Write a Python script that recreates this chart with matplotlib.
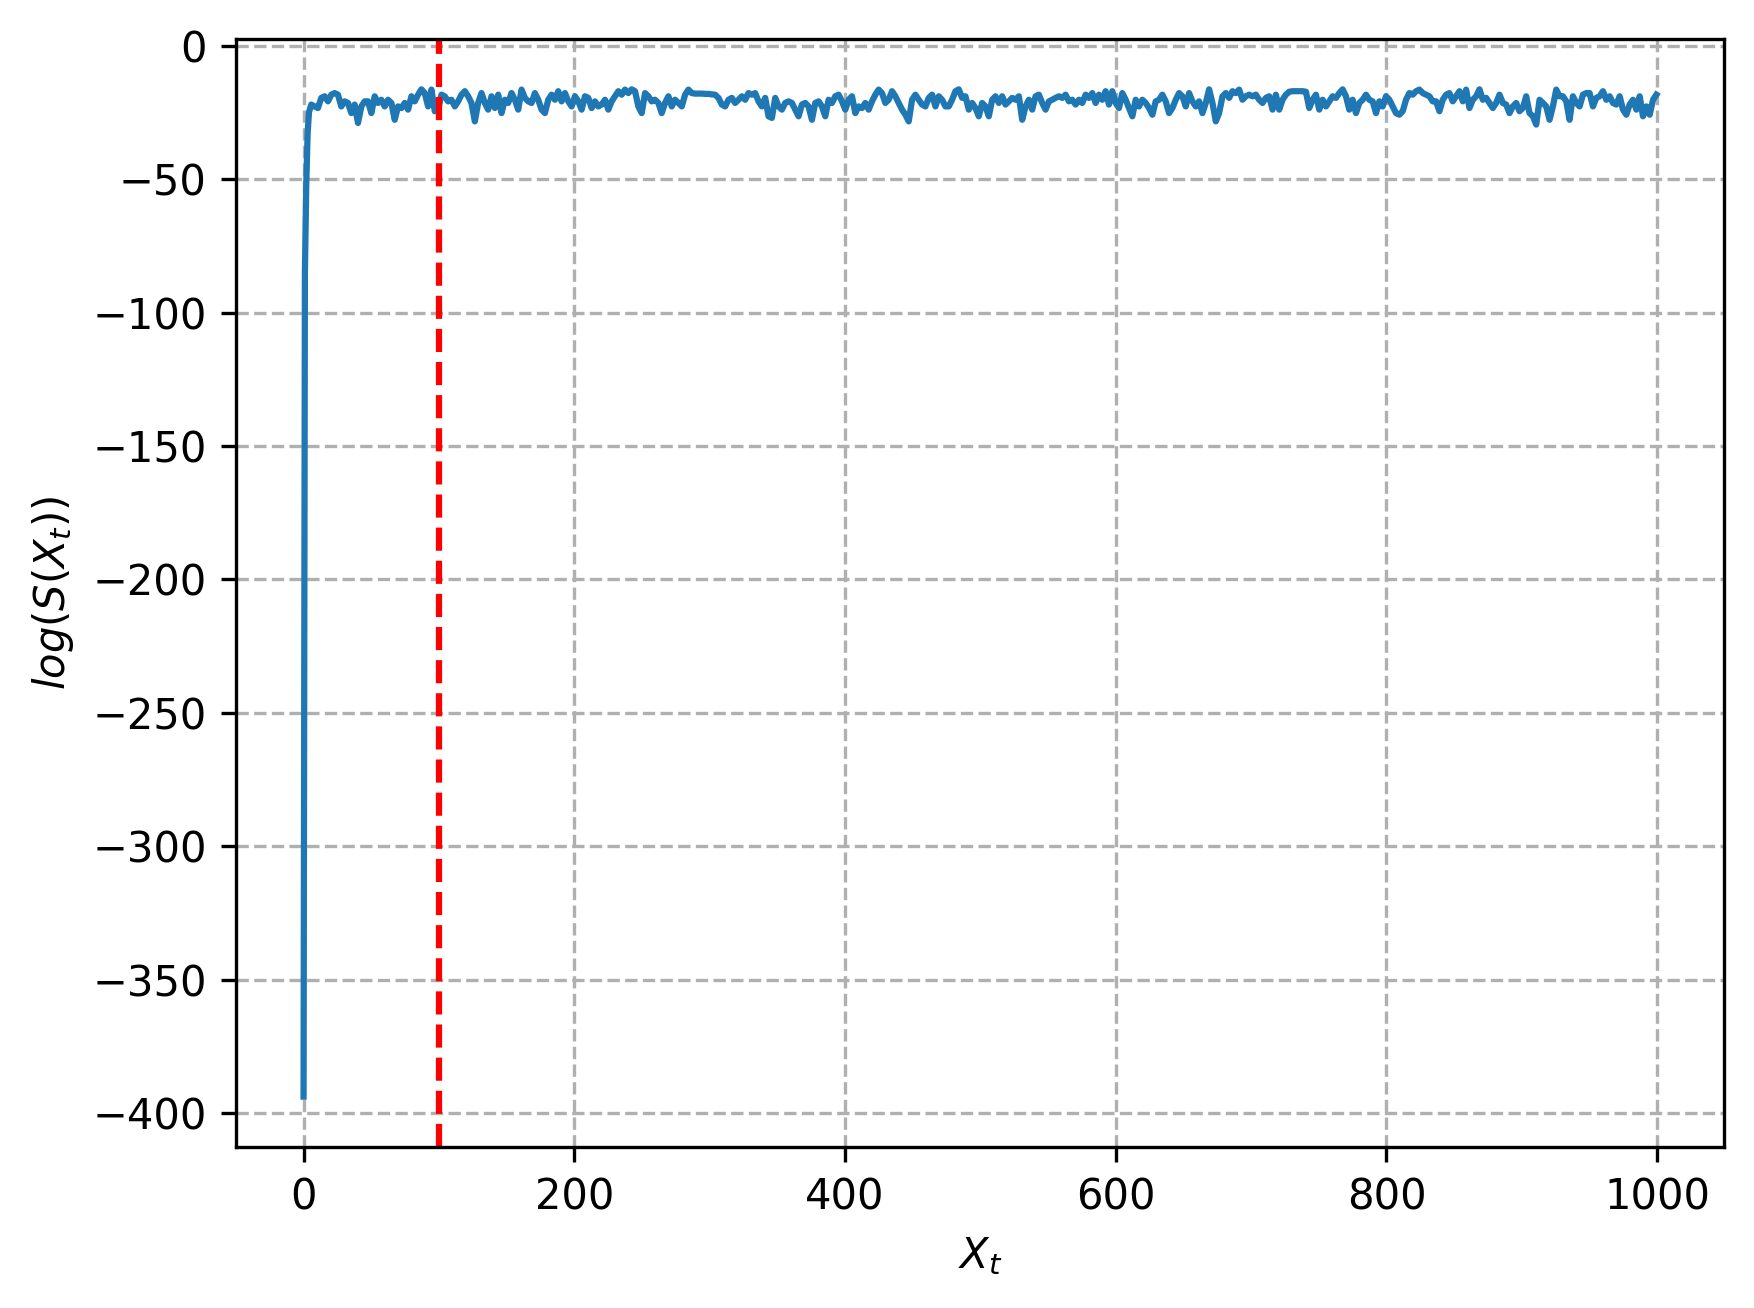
import numpy as np
import matplotlib
matplotlib.use("Agg")
import matplotlib.pyplot as plt

# initial burn-in ramp
ramp_x = [0, 1, 2, 3, 4]
ramp_y = [-393.7, -85.0, -52.0, -33.0, -25.0]

seg1 = [-22.1, -22.8, -23.4, -19.6, -19.0, -20.9, -18.4, -17.8, -18.4, -22.8,
        -20.9, -21.5, -25.3, -22.1, -29.0, -22.8, -20.9, -20.9, -25.3, -19.0,
        -21.5, -20.3, -22.8, -20.3, -21.5, -27.8, -22.8, -23.4, -21.5, -24.0,
        -19.0, -20.9, -18.4, -16.4, -17.8, -22.8, -16.5, -24.6, -24.0, -18.4,
        -19.0, -20.9, -20.3, -22.8, -20.9, -18.4, -17.1, -19.0, -21.5, -28.4,
        -21.5, -17.8, -21.5, -24.0, -19.0, -23.4, -18.4, -25.3, -20.3, -21.5,
        -17.8, -20.3, -24.0, -16.5, -19.6, -20.9]
seg2 = [-21.5, -17.8, -20.3, -24.0, -25.3, -20.3, -18.4, -20.3, -17.1, -20.9,
        -17.8, -20.9, -22.8, -19.0, -20.9, -24.0, -19.0, -19.6, -23.4, -20.9,
        -22.8, -22.1, -20.3, -24.0, -20.9, -19.0, -17.1, -18.4, -16.5, -17.8,
        -16.4, -17.1, -22.8, -25.3, -17.8, -19.0, -20.9, -20.3, -21.5, -25.3,
        -21.5, -19.0, -22.8, -20.3, -21.5, -22.8, -18.4, -16.5, -17.8, -18.0,
        -18.0, -18.0, -18.1, -18.1, -18.3, -18.4, -19.6, -22.1, -22.8, -20.3,
        -19.6, -21.5, -20.3, -19.0, -20.3, -17.8, -18.4, -17.8, -20.9]
seg3 = [-22.8, -19.6, -26.5, -27.1, -19.6, -22.8, -24.0, -21.5, -20.9, -21.5,
        -24.0, -26.5, -22.1, -21.5, -22.8, -27.8, -21.5, -20.9, -22.8, -26.5,
        -20.3, -21.5, -19.0, -18.4, -20.9, -24.0, -20.3, -19.0, -25.3, -22.8,
        -23.4, -21.5, -24.0, -20.9, -18.4, -16.5, -17.8, -21.5, -20.3, -17.1,
        -19.0, -21.5, -24.0, -25.9, -28.4, -20.3, -18.4, -20.3, -22.1, -22.8,
        -19.6, -18.4, -22.8, -19.0, -20.3, -22.8, -22.8, -20.3, -17.1, -16.4,
        -19.6, -19.0, -24.0, -21.5, -23.4, -26.5, -21.5, -22.8, -26.5]
seg4 = [-20.3, -19.0, -21.5, -19.0, -22.1, -20.9, -19.6, -20.3, -19.0, -27.8,
        -22.8, -20.3, -24.0, -19.0, -18.4, -21.5, -24.0, -20.9, -20.3, -19.6,
        -19.0, -19.6, -18.4, -20.9, -20.3, -22.1, -20.3, -21.5, -18.4, -19.6,
        -17.8, -21.5, -18.4, -20.3, -17.1, -22.1, -17.1, -21.5, -23.4, -17.8,
        -20.3, -23.4, -26.5, -20.3, -22.8, -20.3, -21.5, -23.4, -25.9, -20.9,
        -20.3, -18.4, -20.9, -25.3, -23.4, -20.3, -17.8, -19.0, -22.8, -17.8,
        -20.9, -22.8, -20.9, -25.3, -21.5, -16.4, -21.5, -28.4, -25.3]
seg5 = [-19.0, -17.8, -19.6, -17.1, -17.8, -16.5, -20.3, -19.0, -18.4, -19.0,
        -18.4, -20.3, -21.5, -19.6, -19.0, -24.0, -18.4, -24.0, -20.3, -18.4,
        -17.3, -17.1, -17.1, -17.1, -17.1, -17.3, -23.4, -20.3, -18.4, -24.0,
        -20.3, -22.8, -20.9, -19.0, -19.6, -17.8, -16.4, -19.0, -24.0, -20.3,
        -25.3, -21.5, -20.3, -18.4, -20.3, -20.9, -25.3, -20.9, -22.8, -19.0,
        -20.3, -22.8, -25.3, -25.9, -24.6, -20.3, -17.8, -18.4, -17.1, -16.5,
        -17.8, -18.4, -19.0, -20.9, -20.9, -24.6, -20.3, -18.4, -17.8]
seg6 = [-20.9, -19.0, -17.1, -20.9, -16.5, -23.4, -20.3, -19.0, -16.4, -20.3,
        -19.6, -21.5, -23.4, -21.5, -18.4, -21.5, -22.1, -25.3, -22.8, -21.5,
        -24.6, -23.4, -19.0, -25.3, -26.5, -29.6, -20.3, -21.5, -22.8, -27.8,
        -22.8, -16.5, -19.0, -19.0, -20.9, -27.8, -19.0, -21.5, -22.8, -18.4,
        -17.8, -17.8, -22.8, -19.6, -19.0, -17.1, -20.3, -19.0, -21.5, -22.1,
        -19.0, -24.0, -25.9, -22.1, -20.3, -24.0, -19.0, -26.5, -22.8, -25.9,
        -20.3, -18.4]

chain_start = 5.7
chain_end = 999.4
burn_in = 100

chain_y = seg1 + seg2 + seg3 + seg4 + seg5 + seg6
chain_x = np.linspace(chain_start, chain_end, len(chain_y))

x = np.concatenate([ramp_x, chain_x])
y = np.concatenate([ramp_y, chain_y])

W, H, DPI = 1754, 1308, 300
fig = plt.figure(figsize=(W / DPI, H / DPI), dpi=DPI)
ax = fig.add_axes([0.1345, 0.1231, 0.9829 - 0.1345, 0.9702 - 0.1231])

ax.plot(x, y, color='#1f77b4', linewidth=1.5)
ax.axvline(burn_in, color='red', linestyle='--', linewidth=1.5)
ax.grid(True, linestyle='--', color='#b0b0b0', linewidth=0.8)
ax.set_axisbelow(True)

ax.set_xlabel('$X_t$')
ax.set_ylabel('$log(S(X_t))$')
ax.set_xticks([0, 200, 400, 600, 800, 1000])
ax.set_yticks([0, -50, -100, -150, -200, -250, -300, -350, -400])

fig.savefig('out.png', dpi=DPI)
